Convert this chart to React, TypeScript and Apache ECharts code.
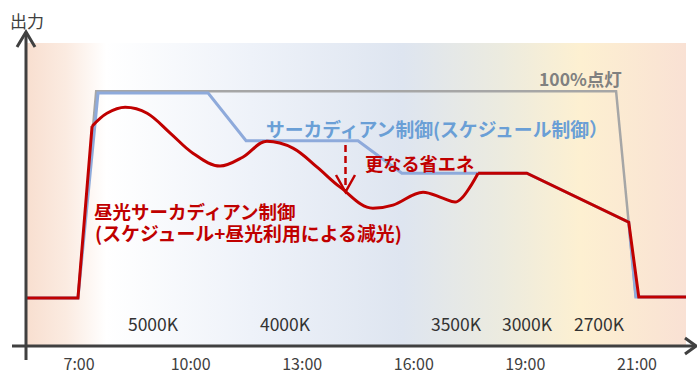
import React, { useEffect, useRef } from "react";
import * as echarts from "echarts";

// x unit: hour-like position (each labelled slot is 3 units apart)
const tickValues = [7, 10, 13, 16, 19, 22];
const tickLabels = ["7:00", "10:00", "13:00", "16:00", "19:00", "21:00"];

// y unit: output % (100 = full output)
const fullOnLine = [
  [6.97, 18.5], [7.46, 100], [21.44, 100], [21.97, 18.9],
];
const circadianLine = [
  [5.6, 18.5], [6.97, 18.5], [7.51, 99.3], [10.47, 99.3], [11.49, 80.5],
  [14.5, 80.5], [15.68, 67.7], [19.04, 67.7], [21.78, 48.4], [21.97, 18.9], [23.32, 18.9],
];
const daylightStart = [[5.6, 18.5], [6.97, 18.5], [7.35, 86.2]];
const daylightCurve = [
  [7.35, 86.2], [7.75, 91.3], [8.24, 93.7], [8.83, 91.3], [9.45, 83.5],
  [10.06, 75.6], [10.79, 70.5], [11.4, 74.0], [12.05, 80.3], [12.75, 77.6],
  [13.4, 70.1], [14.02, 62.2], [14.9, 53.9], [15.44, 55.1], [16.25, 60.2],
  [16.78, 57.9], [17.11, 56.3], [17.3, 58.0], [17.51, 62.2], [17.73, 67.7],
];
const daylightEnd = [
  [17.73, 67.7], [19.04, 67.7], [21.78, 48.4], [22.05, 18.9], [23.32, 18.9],
];
const colorTempLabels = ["5000K", "4000K", "3500K", "3000K", "2700K"];
const colorTempPx = [153, 285, 456, 527, 599];

const RED = "#c00000";
const BLUE = "#8eaadb";
const GRAY = "#a6a6a6";
const AXIS = "#404040";
const FONT = "'Noto Sans CJK JP', 'Noto Sans', sans-serif";

export default function App() {
  const ref = useRef<HTMLDivElement>(null);
  useEffect(() => {
    if (!ref.current) return;
    const chart = echarts.init(ref.current, undefined, { renderer: "svg" });
    const txt = (text: string, x: number, y: number, fill: string, size: number, weight: string, align = "left") => ({
      type: "text",
      x, y,
      z: 50,
      style: {
        text, fill, fontSize: size, fontWeight: weight, fontFamily: FONT,
        textAlign: align, textVerticalAlign: "middle",
      },
    });
    const lineSeries = (name: string, data: number[][], color: string, width: number, smooth: boolean | number, z: number) => ({
      name, type: "line", data, smooth, symbol: "none", z,
      lineStyle: { color, width, cap: "butt", join: "miter" },
      silent: true,
    });
    chart.setOption({
      animation: false,
      grid: {
        left: 27, right: 11, top: 43, bottom: 31, show: true, borderWidth: 0,
        backgroundColor: new echarts.graphic.LinearGradient(0, 0, 1, 0, [
          { offset: 0, color: "#f8dfd0" },
          { offset: 0.06, color: "#fbebe1" },
          { offset: 0.12, color: "#ffffff" },
          { offset: 0.34, color: "#eef2f9" },
          { offset: 0.57, color: "#dee5f0" },
          { offset: 0.72, color: "#ecebdf" },
          { offset: 0.84, color: "#fdf0d1" },
          { offset: 1, color: "#f9e1d4" },
        ]),
      },
      xAxis: {
        type: "value", min: 5.6, max: 23.32,
        axisLine: { show: false }, axisTick: { show: false }, splitLine: { show: false },
        axisLabel: {
          customValues: tickValues,
          formatter: (v: number) => tickLabels[tickValues.indexOf(Math.round(v))] ?? "",
          color: AXIS, fontSize: 16, fontFamily: FONT, margin: 10,
        },
      },
      yAxis: {
        type: "value", min: 0, max: 119,
        axisLine: { show: false }, axisTick: { show: false }, splitLine: { show: false },
        axisLabel: { show: false },
      },
      series: [
        lineSeries("100%点灯", fullOnLine, GRAY, 2.5, false, 2),
        lineSeries("サーカディアン制御", circadianLine, BLUE, 3, false, 3),
        lineSeries("昼光サーカディアン制御", daylightStart, RED, 3, false, 4),
        lineSeries("昼光サーカディアン制御 曲線", daylightCurve, RED, 3, 0.35, 4),
        lineSeries("昼光サーカディアン制御 終", daylightEnd, RED, 3, false, 4),
      ],
      graphic: [
        { type: "line", z: 40, shape: { x1: 26, y1: 32, x2: 26, y2: 360 }, style: { stroke: AXIS, lineWidth: 3 } },
        { type: "polyline", z: 40, shape: { points: [[17, 47], [26, 32], [35, 47]] }, style: { stroke: AXIS, lineWidth: 3, fill: null } },
        { type: "line", z: 40, shape: { x1: 12, y1: 346, x2: 696, y2: 346 }, style: { stroke: AXIS, lineWidth: 3 } },
        { type: "polyline", z: 40, shape: { points: [[685, 338], [696, 346], [685, 354]] }, style: { stroke: AXIS, lineWidth: 3, fill: null } },
        txt("出力", 10, 20, AXIS, 17, "normal"),
        ...colorTempLabels.map((t, i) => txt(t, colorTempPx[i], 323, "#333333", 17.5, "normal", "center")),
        txt("100%点灯", 539, 78, "#808080", 17.5, "bold"),
        txt("サーカディアン制御(スケジュール制御）", 266, 128, "#6a9fd6", 18.8, "bold"),
        txt("更なる省エネ", 365, 163, RED, 18.2, "bold"),
        txt("昼光サーカディアン制御", 94, 210.5, RED, 18.5, "bold"),
        txt("(スケジュール+昼光利用による減光)", 95, 232, RED, 18.9, "bold"),
        { type: "line", z: 40, shape: { x1: 345.5, y1: 145, x2: 345.5, y2: 190 }, style: { stroke: RED, lineWidth: 2.5, lineDash: [7, 4] } },
        { type: "polyline", z: 40, shape: { points: [[336, 175], [345.5, 192], [355, 175]] }, style: { stroke: RED, lineWidth: 2.5, fill: null } },
      ],
    });
    return () => chart.dispose();
  }, []);
  return <div ref={ref} style={{ width: 697, height: 376, position: "absolute", left: 0, top: 0 }} />;
}
